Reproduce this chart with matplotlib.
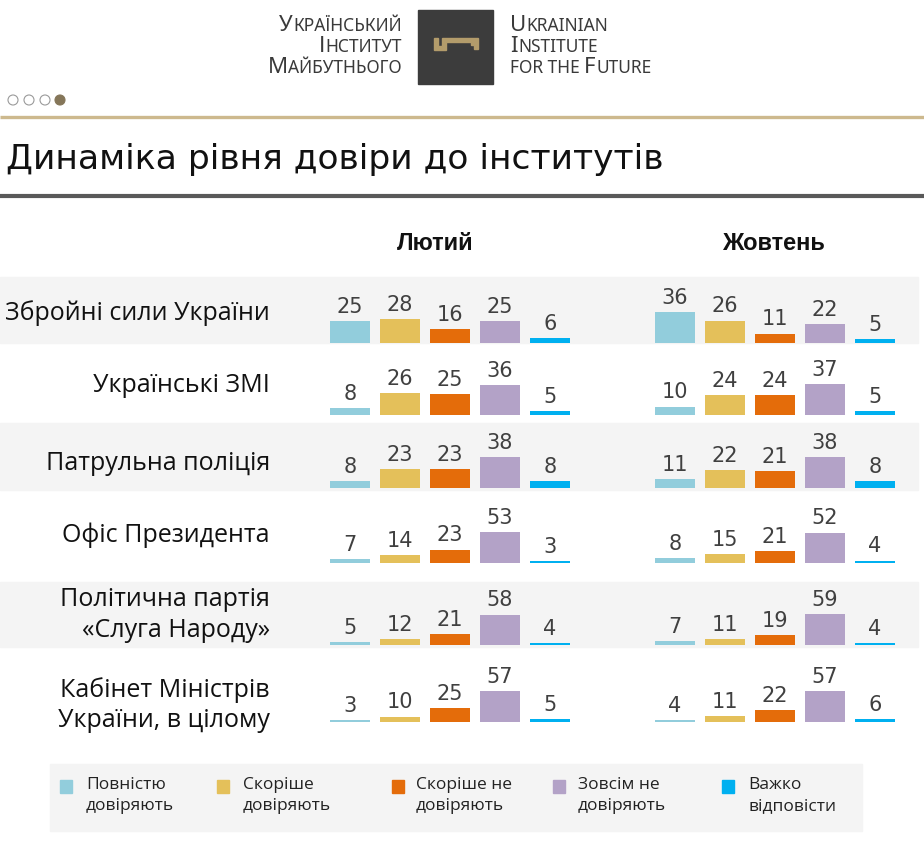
import matplotlib
matplotlib.use('Agg')
import matplotlib.pyplot as plt
from matplotlib.patches import Rectangle, Circle, Polygon

W, H = 924, 851

institutions = ["Збройні сили України", "Українські ЗМІ", "Патрульна поліція",
                "Офіс Президента", "Політична партія\n«Слуга Народу»",
                "Кабінет Міністрів\nУкраїни, в цілому"]
months = ["Лютий", "Жовтень"]
categories = ["Повністю\nдовіряють", "Скоріше\nдовіряють", "Скоріше не\nдовіряють",
              "Зовсім не\nдовіряють", "Важко\nвідповісти"]
feb = [[25, 28, 16, 25, 6], [8, 26, 25, 36, 5], [8, 23, 23, 38, 8],
       [7, 14, 23, 53, 3], [5, 12, 21, 58, 4], [3, 10, 25, 57, 5]]
octb = [[36, 26, 11, 22, 5], [10, 24, 24, 37, 5], [11, 22, 21, 38, 8],
        [8, 15, 21, 52, 4], [7, 11, 19, 59, 4], [4, 11, 22, 57, 6]]
colors = ["#92cddc", "#e4c05a", "#e46c0a", "#b3a2c7", "#00b0f0"]

plt.rcParams['font.family'] = ['Open Sans', 'DejaVu Sans']

fig = plt.figure(figsize=(W / 100, H / 100), dpi=100)
fig.patch.set_facecolor('white')
bg = fig.add_axes([0, 0, 1, 1])
bg.set_xlim(0, W)
bg.set_ylim(H, 0)
bg.axis('off')

# ---- header logo ----
bg.add_patch(Rectangle((418, 10), 75, 74, color='#3c3c3c'))
gold = '#b39c6b'
key = [(434, 38), (438, 38), (438, 46), (442, 46), (442, 38), (478, 38), (478, 49),
       (474, 49), (474, 45), (471, 45), (471, 42), (446, 42), (446, 50), (434, 50)]
bg.add_patch(Polygon(key, closed=True, color=gold))

renderer = fig.canvas.get_renderer()
hdr_col = '#3a3a3a'
HF = ['Noto Sans', 'DejaVu Sans']


def smallcaps(x, y, word, align):
    first, rest = word[0].upper(), word[1:].upper()
    if align == 'right':
        t = bg.text(x, y, rest, fontsize=12.5, ha='right', va='baseline', color=hdr_col, family=HF)
        w = t.get_window_extent(renderer).width
        bg.text(x - w - 0.5, y, first, fontsize=16, ha='right', va='baseline', color=hdr_col, family=HF)
    else:
        t = bg.text(x, y, first, fontsize=16, ha='left', va='baseline', color=hdr_col, family=HF)
        w = t.get_window_extent(renderer).width
        bg.text(x + w + 0.5, y, rest, fontsize=12.5, ha='left', va='baseline', color=hdr_col, family=HF)


for i, (ua, en) in enumerate(zip(["Український", "Інститут", "Майбутнього"],
                                  ["Ukrainian", "Institute", "for the Future"])):
    yb = 31 + i * 21
    smallcaps(402, yb, ua, 'right')
    if en == "for the Future":
        t = bg.text(510, yb, "FOR THE ", fontsize=12.5, ha='left', va='baseline',
                    color=hdr_col, family=HF)
        w = t.get_window_extent(renderer).width
        smallcaps(510 + w, yb, "Future", 'left')
    else:
        smallcaps(510, yb, en, 'left')

# dots
for i, cx in enumerate([13, 29, 45, 60]):
    if i < 3:
        bg.add_patch(Circle((cx, 100), 5, facecolor='white', edgecolor='#9a9a9a', lw=0.8))
    else:
        bg.add_patch(Circle((cx, 100), 5, facecolor='#857659', edgecolor='#857659', lw=0.8))

bg.plot([0, W], [117, 117], color='#cdb98e', lw=2.4, solid_capstyle='butt')
bg.text(6, 160, "Динаміка рівня довіри до інститутів", fontsize=24.8, ha='left',
        va='center', color='#111111', family='DejaVu Sans')
bg.plot([0, W], [196, 196], color='#595959', lw=3, solid_capstyle='butt')

# column headers
for mx, m in zip([435, 773], months):
    bg.text(mx, 243, m, fontsize=17, fontweight='bold', ha='center', va='center',
            color='#111111', family='Liberation Sans')

# bands
for y0, y1 in [(277, 343), (423, 490), (582, 647)]:
    bg.add_patch(Rectangle((0, y0), 918, y1 - y0, color='#f4f4f4', zorder=0))

bases = [343, 415, 488, 563, 645, 722]
label_y = [313, 385, 463, 535, 615, 705]
lefts = [325, 650]
axw = 250
axh = 31

for r, name in enumerate(institutions):
    bg.text(270, label_y[r], name, fontsize=18, ha='right', va='center',
            multialignment='right', color='#111111', linespacing=1.3)
    rmax = max(max(feb[r]), max(octb[r]))
    for m, data in enumerate([feb[r], octb[r]]):
        ax = fig.add_axes([lefts[m] / W, 1 - bases[r] / H, axw / W, axh / H])
        ax.set_xlim(-0.5, 4.5)
        ax.set_ylim(0, rmax)
        ax.axis('off')
        ax.patch.set_alpha(0)
        xs = list(range(len(data)))
        ax.bar(xs, data, width=0.8, color=colors, edgecolor='none')
        for x, v in zip(xs, data):
            ax.annotate(str(v), (x, v), xytext=(0, 3), textcoords='offset points',
                        ha='center', va='bottom', fontsize=15, color='#404040',
                        family='DejaVu Sans', annotation_clip=False)

# legend
bg.add_patch(Rectangle((50, 764), 812, 67, color='#f4f4f4', zorder=0))
sq_x = [60, 217, 392, 553, 722]
tx_x = [86, 243, 416, 578, 748]
for c, sx, tx, lab in zip(colors, sq_x, tx_x, categories):
    bg.add_patch(Rectangle((sx, 780), 12, 13, color=c))
    bg.text(tx, 777, lab, fontsize=12.5, ha='left', va='top', color='#222222',
            linespacing=1.4)

fig.savefig('out.png', dpi=100)
